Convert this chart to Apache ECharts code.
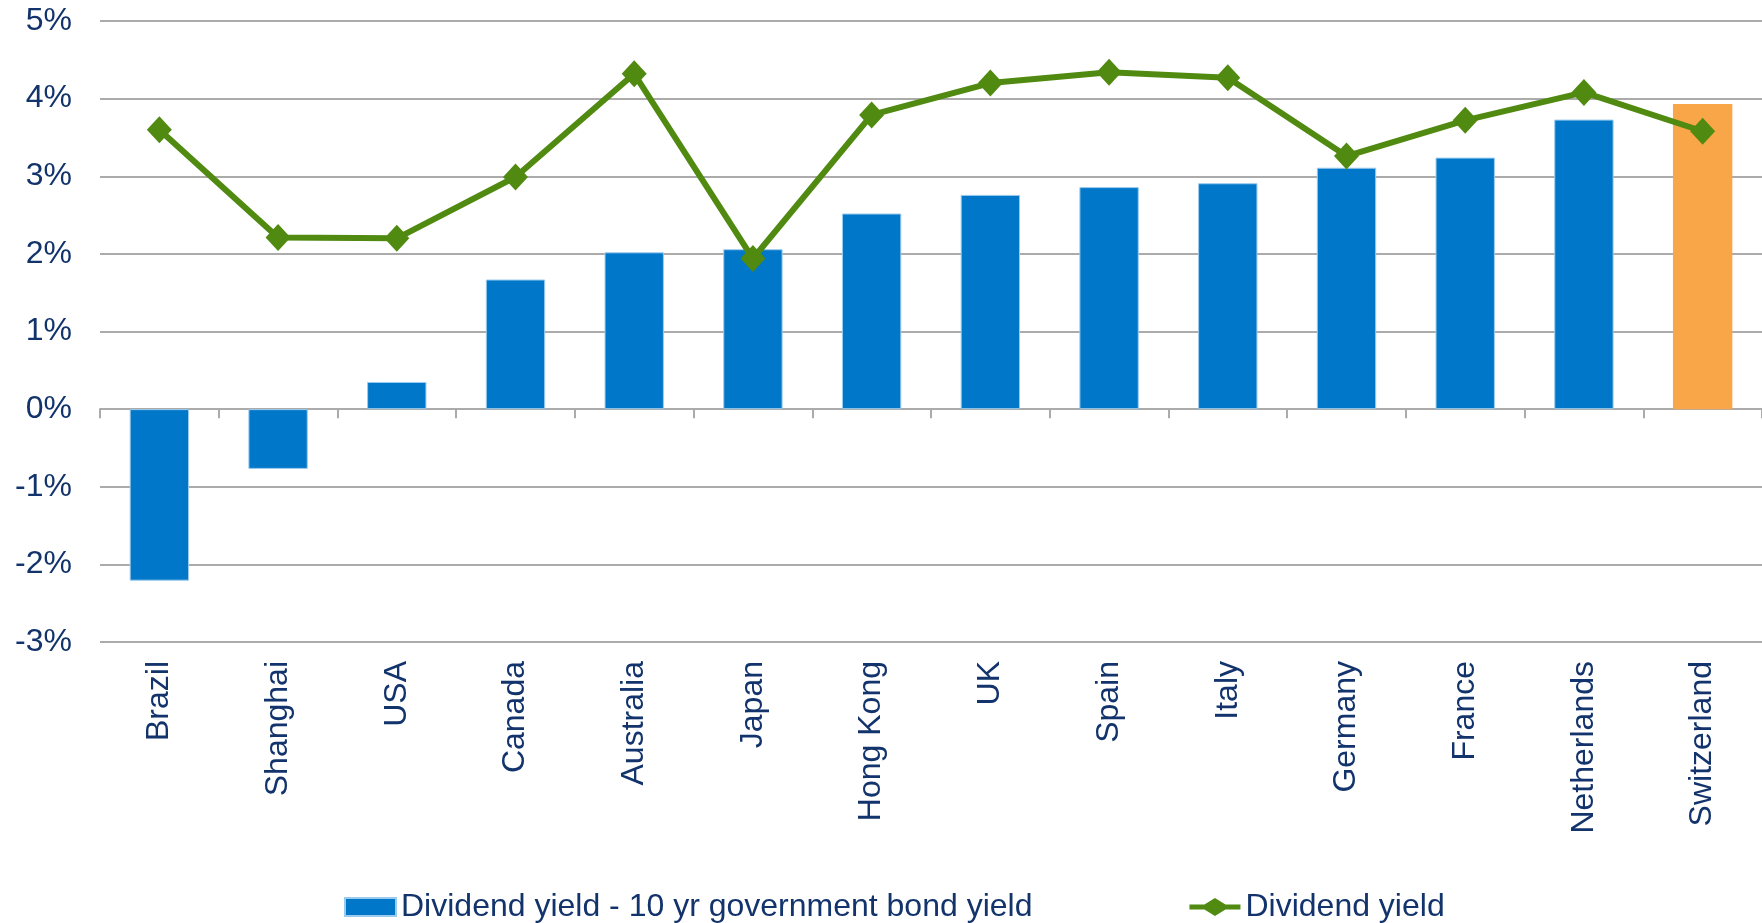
<!DOCTYPE html>
<html>
<head>
<meta charset="utf-8">
<title>Dividend yield vs 10 yr government bond yield</title>
<script src="https://cdn.jsdelivr.net/npm/echarts@6/dist/echarts.min.js"></script>
<style>
  html, body { margin: 0; padding: 0; background: #ffffff; }
  #chart { width: 1762px; height: 923px; }
</style>
</head>
<body>
<div id="chart"></div>
<script>
// Markets, ordered by dividend yield spread over the 10 yr government bond yield
const categories = ['Brazil', 'Shanghai', 'USA', 'Canada', 'Australia', 'Japan', 'Hong Kong',
  'UK', 'Spain', 'Italy', 'Germany', 'France', 'Netherlands', 'Switzerland'];

// Dividend yield minus 10 yr government bond yield (%)
const spreadValues = [-2.21, -0.77, 0.35, 1.67, 2.02, 2.06, 2.52, 2.76, 2.86, 2.91, 3.11, 3.24, 3.73, 3.93];

// Dividend yield (%)
const dividendYield = [3.60, 2.21, 2.20, 2.99, 4.32, 1.94, 3.79, 4.20, 4.34, 4.27, 3.26, 3.72, 4.08, 3.58];

// Y axis range and step (%)
const yMin = -3;
const yMax = 5;
const yStep = 1;

const highlighted = 'Switzerland';

const NAVY = '#12336b';
const BLUE = '#0077c8';
const ORANGE = '#f9a648';
const GREEN = '#508a10';
const GRID_GREY = '#ababab';
const FONT = "'Liberation Sans', Arial, sans-serif";

// legend marker for the line series: a short line with a diamond in the middle
const LINE_MARKER = 'path://M0,6.5 L15,6.5 L25.5,0 L36,6.5 L51,6.5 L51,11.5 L36,11.5 L25.5,18 L15,11.5 L0,11.5 Z';

const chart = echarts.init(document.getElementById('chart'), null, { renderer: 'canvas' });

const barData = spreadValues.map((v, i) => (
  categories[i] === highlighted
    ? { value: v, itemStyle: { color: ORANGE, borderWidth: 0 } }
    : v
));

chart.setOption({
  animation: false,
  backgroundColor: '#ffffff',
  textStyle: { fontFamily: FONT },
  grid: { left: 100, top: 21, width: 1664, height: 621, containLabel: false },
  legend: {
    left: 339,
    top: 886,
    itemWidth: 51,
    itemHeight: 18,
    itemGap: 157,
    symbolKeepAspect: false,
    textStyle: { color: NAVY, fontSize: 32, fontFamily: FONT },
    data: [
      { name: 'Dividend yield - 10 yr government bond yield', icon: 'rect' },
      { name: 'Dividend yield', icon: LINE_MARKER }
    ]
  },
  xAxis: [
    {
      // category labels along the bottom of the plot
      type: 'category',
      data: categories,
      position: 'bottom',
      axisLine: { show: false, onZero: false },
      axisTick: { show: false },
      axisLabel: { rotate: 90, margin: 19, color: NAVY, fontSize: 32, fontFamily: FONT, interval: 0 },
      splitLine: { show: false }
    },
    {
      // zero line with ticks between categories
      type: 'category',
      data: categories,
      position: 'bottom',
      axisLine: { show: true, onZero: true, lineStyle: { color: GRID_GREY, width: 2 } },
      axisTick: { show: true, length: 9, lineStyle: { color: GRID_GREY, width: 2 } },
      axisLabel: { show: false },
      splitLine: { show: false }
    }
  ],
  yAxis: {
    type: 'value',
    min: yMin,
    max: yMax,
    interval: yStep,
    axisLine: { show: false },
    axisTick: { show: false },
    axisLabel: { formatter: '{value}%', color: NAVY, fontSize: 32, fontFamily: FONT, margin: 28 },
    splitLine: { lineStyle: { color: GRID_GREY, width: 2 } }
  },
  series: [
    {
      name: 'Dividend yield - 10 yr government bond yield',
      type: 'bar',
      xAxisIndex: 0,
      data: barData,
      barWidth: '50%',
      itemStyle: { color: BLUE, borderColor: '#9ccbee', borderWidth: 1 },
      z: 2
    },
    {
      name: 'Dividend yield',
      type: 'line',
      xAxisIndex: 0,
      data: dividendYield,
      symbol: 'diamond',
      symbolSize: [25, 27],
      lineStyle: { color: GREEN, width: 6 },
      itemStyle: { color: GREEN },
      z: 3
    }
  ]
});
</script>
</body>
</html>
